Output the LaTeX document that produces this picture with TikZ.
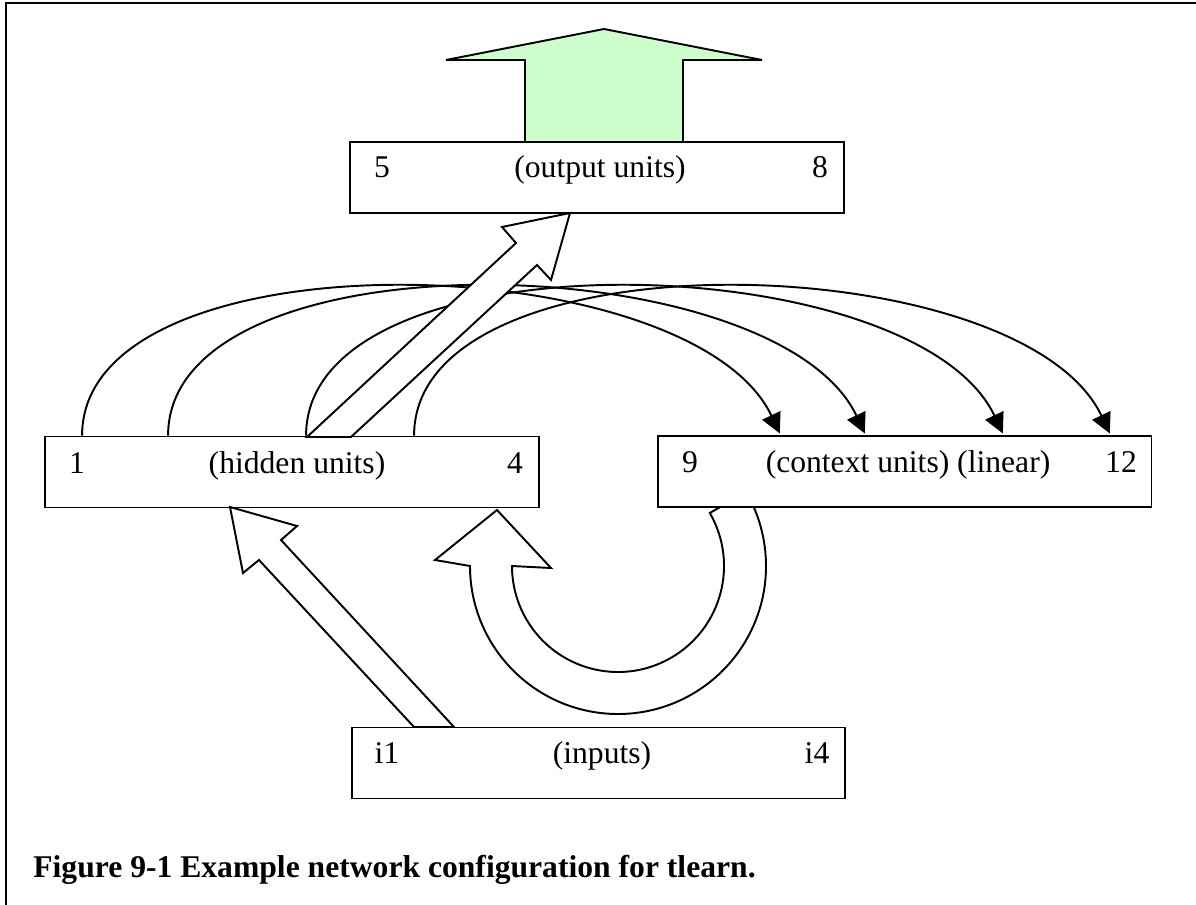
\documentclass[tikz,border=0pt]{standalone}
\usepackage{fontspec}
\setmainfont{Liberation Serif}
\usetikzlibrary{arrows.meta,calc}
\definecolor{outgreen}{HTML}{CCFFCC}
\tikzset{
  unitbox/.style={draw, fill=white, line width=1.1pt, minimum width=9.88cm, minimum height=1.42cm, inner sep=0pt},
  lbl/.style={anchor=base, inner sep=0pt, font=\fontsize{18}{21}\selectfont},
  fat/.style={draw, fill=white, line width=1.1pt, line join=miter},
  copyline/.style={line width=1.1pt, shorten >=1pt, -{Triangle[length=0.4cm,width=0.4cm]}}
}
\begin{document}
\begin{tikzpicture}[x=0.02cm, y=-0.02cm]
    \useasboundingbox (0,0) rectangle (1196,905);
    \draw[line width=1.6pt] (6,905) -- (6,3) -- (1196,3);
    \draw[fat, fill=outgreen] (525,142) -- (525,60) -- (446,60) -- (604,29) -- (762,60) -- (683,60) -- (683,142) -- cycle;
    \draw[fat] (470,566) arc (180:-30:148) -- (709.8,513) arc (-30:180:106) -- (551,568) -- (497,510) -- (435,560) -- cycle;
    \node[unitbox] (output) at (597,177.5) {};
    \node[unitbox] (hidden) at (292,472) {};
    \node[unitbox] (context) at (904.5,471.5) {};
    \node[unitbox] (inputs) at (598.5,763) {};
    \node[lbl] (o5) at (382,178) {5};
    \node[lbl] (otext) at (600,178) {(output units)};
    \node[lbl] (o8) at (820,178) {8};
    \node[lbl] (h1) at (77,473) {1};
    \node[lbl] (htext) at (297,473) {(hidden units)};
    \node[lbl] (h4) at (515,473) {4};
    \node[lbl] (c9) at (690,472) {9};
    \node[lbl] (ctext) at (908,472) {(context units) (linear)};
    \node[lbl] (c12) at (1121,472) {12};
    \node[lbl] (i1) at (387,763) {i1};
    \node[lbl] (itext) at (602,763) {(inputs)};
    \node[lbl] (i4) at (817,763) {i4};
    \foreach \s/\e in {38/124,124/209,262/347,370/454}
        \draw[copyline] ($(hidden.north west)+(\s,0)$) .. controls +(0,-205) and +(-90,-190) .. ($(context.north west)+(\e,0)$);
    \draw[fat] (307,437) -- (516,243) -- (502,227) -- (570,213) -- (551,280) -- (537,265) -- (351,437) -- cycle;
    \draw[fat] (414,727) -- (259,560) -- (243,573) -- (230,507) -- (297,526) -- (281,540) -- (454,727) -- cycle;
    \node[anchor=base west, inner sep=0pt, font=\fontsize{18}{21}\selectfont\bfseries] (caption) at (33,877) {Figure 9-1 Example network configuration for tlearn.};
\end{tikzpicture}
\end{document}
